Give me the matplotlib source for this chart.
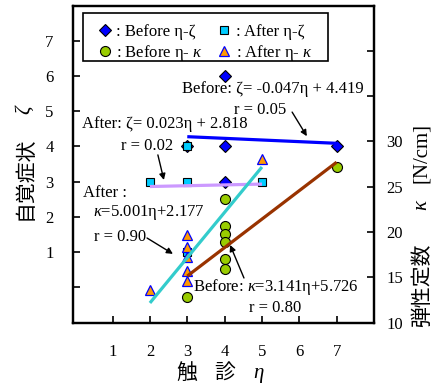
import numpy as np
import matplotlib
matplotlib.use('Agg')
import matplotlib.pyplot as plt
from matplotlib.lines import Line2D
from matplotlib.patches import Rectangle

plt.rcParams['font.family'] = ['Liberation Serif', 'Noto Sans CJK JP']
plt.rcParams['mathtext.fontset'] = 'custom'
plt.rcParams['mathtext.rm'] = 'Liberation Serif'
plt.rcParams['mathtext.it'] = 'Liberation Serif:italic'

# palpation score eta vs subjective symptom zeta (left axis)
x_before_zeta = [3, 4, 4, 4, 7]
before_zeta = [4, 6, 4, 3, 4]
x_after_zeta = [2, 3, 3, 3, 5]
after_zeta = [3, 3, 4, 1, 3]

# eta vs spring constant kappa [N/cm] (right axis)
x_before_kappa = [3, 4, 4, 4, 4, 4, 4, 7]
before_kappa = [12.8, 23.6, 20.7, 19.8, 18.9, 17.0, 15.9, 27.2]
x_after_kappa = [2, 3, 3, 3, 3, 3, 5]
after_kappa = [13.6, 19.7, 18.4, 17.3, 15.7, 14.6, 28.1]

# regression lines as written on the chart: slope, intercept, x range
fit_before_zeta = (-0.047, 4.419, 3, 7)
fit_after_zeta = (0.023, 2.818, 2, 5)
fit_before_kappa = (3.141, 5.726, 3, 7)
fit_after_kappa = (5.001, 2.177, 2, 5)

fs = 12
lfs = 15

def fit_line(ax, fit, color):
	a, b, x0, x1 = fit
	xs = np.array([x0, x1])
	ax.plot(xs, a*xs + b, color=color, lw=2.3, zorder=4, solid_capstyle='butt')

def pointer(ax, start, end):
	ax.annotate('', xy=end, xytext=start, xycoords='axes fraction',
		arrowprops=dict(arrowstyle='-|>', color='black', lw=1, mutation_scale=9, shrinkA=0, shrinkB=0))

fig = plt.figure(figsize=(4.33, 3.85), dpi=100)
ax = fig.add_axes([0.1686, 0.1618, 0.6951, 0.8239])
ax2 = ax.twinx()

ax.plot(x_before_zeta, before_zeta, 'D', ms=6.5, mfc='#0000ff', mec='black', mew=0.8, zorder=3)
ax.plot(x_after_zeta, after_zeta, 's', ms=6, mfc='#00ccff', mec='black', mew=0.8, zorder=3)
fit_line(ax, fit_before_zeta, '#0000ff')
fit_line(ax, fit_after_zeta, '#cc99ff')

ax2.plot(x_before_kappa, before_kappa, 'o', ms=7.2, mfc='#99cc00', mec='black', mew=0.8, zorder=3)
ax2.plot(x_after_kappa, after_kappa, '^', ms=7, mfc='#ff9900', mec='#0000ff', mew=0.9, zorder=3)
fit_line(ax2, fit_after_kappa, '#33cccc')
fit_line(ax2, fit_before_kappa, '#993300')

ax.set_xlim(-0.06, 8)
ax.set_ylim(-1, 8)
ax2.set_ylim(10, 45)

ax.set_xticks(range(1, 8))
ax.set_yticks(range(0, 8))
ax.set_yticklabels([''] + [str(i) for i in range(1, 8)])
ax2.set_yticks(range(10, 45, 5))
ax2.set_yticklabels(['10', '15', '20', '25', '30', '', ''])
ax.tick_params(axis='x', direction='in', length=5, width=1.2, pad=15, labelsize=fs)
ax.tick_params(axis='y', direction='in', length=5, width=1.2, pad=14, labelsize=fs)
ax2.tick_params(axis='y', direction='in', length=5, width=1.2, pad=9, labelsize=fs)
for a in (ax, ax2):
	for s in a.spines.values():
		s.set_linewidth(1.6)

# axis titles (japanese + greek symbols drawn as separate pieces)
fig.text(0.058, 0.429, '自覚症状', rotation=90, ha='center', va='bottom', fontsize=lfs,
	family='Noto Sans CJK JP')
fig.text(0.058, 0.714, 'ζ', rotation=90, ha='center', va='center', fontsize=lfs, style='italic')
fig.text(0.974, 0.151, '弾性定数', rotation=90, ha='center', va='bottom', fontsize=lfs,
	family='Noto Sans CJK JP')
fig.text(0.974, 0.468, 'κ', rotation=90, ha='center', va='center', fontsize=lfs, style='italic')
fig.text(0.974, 0.681, '[N/cm]', rotation=90, ha='center', va='top', fontsize=lfs)
fig.text(0.431, 0.031, '触', ha='center', va='center', fontsize=lfs, family='Noto Sans CJK JP')
fig.text(0.520, 0.031, '診', ha='center', va='center', fontsize=lfs, family='Noto Sans CJK JP')
fig.text(0.596, 0.031, 'η', ha='center', va='center', fontsize=lfs, style='italic')

# equations and correlation
ax.text(0.362, 0.737, 'Before: ζ= -0.047η + 4.419', transform=ax.transAxes, fontsize=fs, va='center')
ax.text(0.623, 0.671, 'r = 0.05', transform=ax.transAxes, ha='center', va='center', fontsize=fs)
pointer(ax, (0.728, 0.664), (0.777, 0.588))
ax.text(0.03, 0.627, 'After: ζ= 0.023η + 2.818', transform=ax.transAxes, fontsize=fs, va='center')
ax.text(0.246, 0.557, 'r = 0.02', transform=ax.transAxes, ha='center', va='center', fontsize=fs)
pointer(ax, (0.282, 0.529), (0.302, 0.450))
ax.text(0.033, 0.409, 'After :', transform=ax.transAxes, fontsize=fs, va='center')
ax.text(0.066, 0.346, '$\\kappa$=5.001η+2.177', transform=ax.transAxes, fontsize=fs, va='center')
ax.text(0.155, 0.27, 'r = 0.90', transform=ax.transAxes, ha='center', va='center', fontsize=fs)
pointer(ax, (0.246, 0.267), (0.332, 0.217))
ax2.text(0.399, 0.113, 'Before: $\\kappa$=3.141η+5.726', transform=ax2.transAxes, fontsize=fs, va='center')
ax2.text(0.671, 0.047, 'r = 0.80', transform=ax2.transAxes, ha='center', va='center', fontsize=fs)
pointer(ax2, (0.568, 0.141), (0.522, 0.245))

# legend: frame drawn by hand, entries by legend()
ax2.add_patch(Rectangle((0.033, 0.825), 0.814, 0.151, transform=ax2.transAxes, fill=True,
	facecolor='white', edgecolor='black', lw=1.2, zorder=5))
handles = [
	Line2D([], [], ls='none', marker='D', ms=6.5, mfc='#0000ff', mec='black', mew=0.8),
	Line2D([], [], ls='none', marker='o', ms=7.2, mfc='#99cc00', mec='black', mew=0.8),
	Line2D([], [], ls='none', marker='s', ms=6, mfc='#00ccff', mec='black', mew=0.8),
	Line2D([], [], ls='none', marker='^', ms=7, mfc='#ff9900', mec='#0000ff', mew=0.9),
]
labels = [': Before η-ζ', ': Before η- $\\kappa$', ': After η-ζ', ': After η- $\\kappa$']
leg = ax2.legend(handles, labels, ncol=2, loc='upper left', bbox_to_anchor=(0.078, 0.941),
	fontsize=fs, frameon=False, handlelength=1.0, handletextpad=0.2, columnspacing=0.75,
	borderpad=0, labelspacing=0.14, borderaxespad=0)
leg.set_zorder(6)

fig.savefig('out.png', dpi=100)
